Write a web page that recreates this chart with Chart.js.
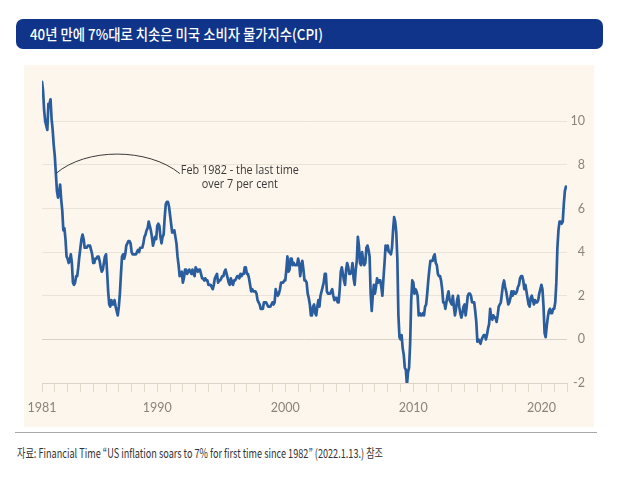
<!DOCTYPE html>
<html>
<head>
<meta charset="utf-8">
<script src="https://cdn.jsdelivr.net/npm/chart.js@4.4.1/dist/chart.umd.min.js"></script>
<style>
  html, body { margin:0; padding:0; background:#ffffff; width:633px; height:499px; overflow:hidden; position:relative; }
  #title { position:absolute; left:16px; top:19px; width:587px; height:30px; background:#0f3489; border-radius:7px; }
  #title span { position:absolute; left:14px; top:0; display:inline-block; line-height:30px; white-space:nowrap;
    color:#ffffff; font-family:"Noto Sans CJK KR", sans-serif; font-size:15px; font-weight:500; transform-origin:0 50%; }
  #panel { position:absolute; left:24px; top:65px; width:570px; height:362px; background:#fdf6ec; }
  #chart { position:absolute; left:24px; top:65px; }
  #rule { position:absolute; left:15px; top:432px; width:582px; height:1px; background:#a8a8a8; }
  #src { position:absolute; left:17px; top:444px; line-height:18px; white-space:nowrap; color:#333333;
    font-family:"Noto Sans CJK KR", sans-serif; font-size:12.5px; transform-origin:0 50%; }
</style>
</head>
<body>
<div id="title"><span id="titleText">40년 만에 7%대로 치솟은 미국 소비자 물가지수(CPI)</span></div>
<div id="panel"></div>
<canvas id="chart" width="570" height="362"></canvas>
<div id="rule"></div>
<div id="src">자료: Financial Time “US inflation soars to 7% for first time since 1982” (2022.1.13.) 참조</div>
<script>
// ---- data ----
const startYear = 1981;               // first month = Jan 1981, monthly to Dec 2021
const cpiYoY = [
  // 1981
  11.8, 11.4, 10.5, 10.0, 9.8, 9.6, 10.8, 10.8, 11.0, 10.1, 9.6, 8.9,
  // 1982
  8.4, 7.6, 6.8, 6.5, 6.7, 7.1, 6.4, 5.9, 5.0, 5.1, 4.6, 3.8,
  // 1983
  3.7, 3.5, 3.6, 3.9, 3.5, 2.6, 2.5, 2.6, 2.9, 2.9, 3.3, 3.8,
  // 1984
  4.2, 4.6, 4.8, 4.6, 4.2, 4.2, 4.2, 4.3, 4.3, 4.3, 4.1, 3.9,
  // 1985
  3.5, 3.5, 3.7, 3.7, 3.8, 3.8, 3.6, 3.3, 3.1, 3.2, 3.5, 3.8,
  // 1986
  3.9, 3.1, 2.2, 1.6, 1.5, 1.8, 1.6, 1.6, 1.8, 1.5, 1.3, 1.1,
  // 1987
  1.5, 2.1, 3.0, 3.8, 3.9, 3.7, 3.9, 4.3, 4.4, 4.5, 4.5, 4.4,
  // 1988
  4.0, 3.9, 3.9, 3.9, 3.9, 4.0, 4.1, 4.0, 4.2, 4.2, 4.2, 4.4,
  // 1989
  4.7, 4.8, 5.0, 5.1, 5.4, 5.2, 5.0, 4.7, 4.3, 4.5, 4.7, 4.6,
  // 1990
  5.2, 5.3, 5.2, 4.7, 4.4, 4.7, 4.8, 5.6, 6.2, 6.3, 6.3, 6.1,
  // 1991
  5.7, 5.3, 4.9, 4.9, 5.0, 4.7, 4.4, 3.8, 3.4, 2.9, 3.0, 3.1,
  // 1992
  2.6, 2.8, 3.2, 3.2, 3.0, 3.1, 3.2, 3.1, 3.0, 3.2, 3.0, 2.9,
  // 1993
  3.3, 3.2, 3.1, 3.2, 3.2, 3.0, 2.8, 2.8, 2.7, 2.8, 2.7, 2.7,
  // 1994
  2.5, 2.5, 2.5, 2.4, 2.3, 2.5, 2.8, 2.9, 3.0, 2.6, 2.7, 2.7,
  // 1995
  2.8, 2.9, 2.9, 3.1, 3.2, 3.0, 2.8, 2.6, 2.5, 2.8, 2.6, 2.5,
  // 1996
  2.7, 2.7, 2.8, 2.9, 2.9, 2.8, 3.0, 2.9, 3.0, 3.0, 3.3, 3.3,
  // 1997
  3.0, 3.0, 2.8, 2.5, 2.2, 2.3, 2.2, 2.2, 2.2, 2.1, 1.8, 1.7,
  // 1998
  1.6, 1.4, 1.4, 1.4, 1.7, 1.7, 1.7, 1.6, 1.5, 1.5, 1.5, 1.6,
  // 1999
  1.7, 1.6, 1.7, 2.3, 2.1, 2.0, 2.1, 2.3, 2.6, 2.6, 2.6, 2.7,
  // 2000
  2.7, 3.2, 3.8, 3.1, 3.2, 3.7, 3.7, 3.4, 3.5, 3.4, 3.4, 3.4,
  // 2001
  3.7, 3.5, 2.9, 3.3, 3.6, 3.2, 2.7, 2.7, 2.6, 2.1, 1.9, 1.6,
  // 2002
  1.1, 1.1, 1.5, 1.6, 1.2, 1.1, 1.5, 1.8, 1.5, 2.0, 2.2, 2.4,
  // 2003
  2.6, 3.0, 3.0, 2.2, 2.1, 2.1, 2.1, 2.2, 2.3, 2.0, 1.8, 1.9,
  // 2004
  1.9, 1.7, 1.7, 2.3, 3.1, 3.3, 3.0, 2.7, 2.5, 3.2, 3.5, 3.3,
  // 2005
  3.0, 3.0, 3.1, 3.5, 2.8, 2.5, 3.2, 3.6, 4.7, 4.3, 3.5, 3.4,
  // 2006
  4.0, 3.6, 3.4, 3.5, 4.2, 4.3, 4.1, 3.8, 2.1, 1.3, 2.0, 2.5,
  // 2007
  2.1, 2.4, 2.8, 2.6, 2.7, 2.7, 2.4, 2.0, 2.8, 3.5, 4.3, 4.1,
  // 2008
  4.3, 4.0, 4.0, 3.9, 4.2, 5.0, 5.6, 5.4, 4.9, 3.7, 1.1, 0.1,
  // 2009
  0.0, 0.2, -0.4, -0.7, -1.3, -1.4, -2.1, -1.5, -1.3, -0.2, 1.8, 2.7,
  // 2010
  2.6, 2.1, 2.3, 2.2, 2.0, 1.1, 1.2, 1.1, 1.1, 1.2, 1.1, 1.5,
  // 2011
  1.6, 2.1, 2.7, 3.2, 3.6, 3.6, 3.6, 3.8, 3.9, 3.5, 3.4, 3.0,
  // 2012
  2.9, 2.9, 2.7, 2.3, 1.7, 1.7, 1.4, 1.7, 2.0, 2.2, 1.8, 1.7,
  // 2013
  1.6, 2.0, 1.5, 1.1, 1.4, 1.8, 2.0, 1.5, 1.2, 1.0, 1.2, 1.5,
  // 2014
  1.6, 1.1, 1.5, 2.0, 2.1, 2.1, 2.0, 1.7, 1.7, 1.7, 1.3, 0.8,
  // 2015
  -0.1, 0.0, -0.1, -0.2, 0.0, 0.1, 0.2, 0.2, 0.0, 0.2, 0.5, 0.7,
  // 2016
  1.4, 1.0, 0.9, 1.1, 1.0, 1.0, 0.8, 1.1, 1.5, 1.6, 1.7, 2.1,
  // 2017
  2.5, 2.7, 2.4, 2.2, 1.9, 1.6, 1.7, 1.9, 2.2, 2.0, 2.2, 2.1,
  // 2018
  2.1, 2.2, 2.4, 2.5, 2.8, 2.9, 2.9, 2.7, 2.3, 2.5, 2.2, 1.9,
  // 2019
  1.6, 1.5, 1.9, 2.0, 1.8, 1.6, 1.8, 1.7, 1.7, 1.8, 2.1, 2.3,
  // 2020
  2.5, 2.3, 1.5, 0.3, 0.1, 0.6, 1.0, 1.3, 1.4, 1.2, 1.2, 1.4,
  // 2021
  1.4, 1.7, 2.6, 4.2, 5.0, 5.4, 5.4, 5.3, 5.4, 6.2, 6.8, 7.0
];
const xTickLabels = [1981, 1990, 2000, 2010, 2020];
const xRange = [1981, 2022];
const yTicks = [-2, 0, 2, 4, 6, 8, 10];
const yRange = [-2, 12];
const annotationIndex = 13;            // Feb 1982
const annotationLines = ['Feb 1982 - the last time', 'over 7 per cent'];

// ---- fit the condensed HTML texts ----
function fitWidth(el, target) {
  const w = el.getBoundingClientRect().width;
  if (w > 0) el.style.transform = 'scaleX(' + (target / w) + ')';
}
fitWidth(document.getElementById('titleText'), 293);
fitWidth(document.getElementById('src'), 366);

const points = cpiYoY.map((v, i) => ({ x: startYear + i / 12, y: v }));

const bgPlugin = {
  id: 'bg',
  beforeDraw(chart) {
    const ctx = chart.ctx;
    ctx.save();
    ctx.fillStyle = '#fdf6ec';
    ctx.fillRect(0, 0, chart.width, chart.height);
    ctx.restore();
  }
};

const annotationPlugin = {
  id: 'note',
  afterDatasetsDraw(chart) {
    const ctx = chart.ctx;
    const xs = chart.scales.x, ys = chart.scales.y;
    const p = points[annotationIndex];
    const sx = xs.getPixelForValue(p.x), sy = ys.getPixelForValue(p.y);
    const ex = sx + 124, ey = sy + 0;
    ctx.save();
    ctx.strokeStyle = '#3a3a3a';
    ctx.lineWidth = 1;
    ctx.beginPath();
    ctx.moveTo(sx, sy);
    ctx.bezierCurveTo(sx + 30, sy - 26, ex - 32, ey - 26, ex, ey);
    ctx.stroke();
    ctx.fillStyle = '#3a3a3a';
    ctx.font = '13px "Liberation Sans Narrow", "Open Sans", sans-serif';
    ctx.textBaseline = 'middle';
    const w0 = ctx.measureText(annotationLines[0]).width;
    const k = 118 / w0;
    const cx = ex + 1 + 59;
    ctx.translate(cx, 0);
    ctx.scale(k, 1);
    ctx.textAlign = 'center';
    ctx.fillText(annotationLines[0], 0, ey - 3);
    ctx.fillText(annotationLines[1], 0, ey + 11);
    ctx.restore();
  }
};

new Chart(document.getElementById('chart'), {
  type: 'line',
  data: {
    datasets: [{
      data: points,
      borderColor: '#2a5d9d',
      borderWidth: 2.7,
      pointRadius: 0,
      tension: 0,
      borderJoinStyle: 'round',
      borderCapStyle: 'round',
      fill: false
    }]
  },
  options: {
    responsive: false,
    animation: false,
    events: [],
    layout: { padding: { left: 18, top: 12.6, right: 9, bottom: 0 } },
    plugins: { legend: { display: false }, tooltip: { enabled: false }, title: { display: false } },
    scales: {
      x: {
        type: 'linear',
        min: xRange[0],
        max: xRange[1],
        afterBuildTicks(scale) {
          const t = [];
          for (let yr = xRange[0]; yr <= xRange[1]; yr++) t.push({ value: yr });
          scale.ticks = t;
        },
        afterFit(scale) { scale.height = 44; scale.paddingLeft = 0; scale.paddingRight = 0; },
        grid: { drawOnChartArea: false, drawTicks: true, tickLength: 9, color: '#e3d9cb', tickColor: '#e3d9cb' },
        border: { display: true, color: '#ddd4c7', width: 1 },
        ticks: {
          autoSkip: false,
          maxRotation: 0,
          padding: 8,
          color: '#8a847e',
          font: { family: 'Lato, "Open Sans", sans-serif', size: 12.5 },
          callback: (v) => xTickLabels.includes(Math.round(v)) ? String(Math.round(v)) : ''
        }
      },
      y: {
        position: 'right',
        min: yRange[0],
        max: yRange[1],
        afterBuildTicks(scale) { scale.ticks = yTicks.map(v => ({ value: v })); },
        afterFit(scale) { scale.width = 18; scale.paddingTop = 0; scale.paddingBottom = 0; },
        grid: {
          drawTicks: false,
          color: (c) => c.tick && c.tick.value === 0 ? '#d8d1c7' : '#ebe3d7',
          lineWidth: 1
        },
        border: { display: false },
        ticks: {
          padding: 6,
          crossAlign: 'far',
          color: '#8a847e',
          font: { family: 'Lato, "Open Sans", sans-serif', size: 12.5 },
          callback: (v) => String(v)
        }
      }
    }
  },
  plugins: [bgPlugin, annotationPlugin]
});
</script>
</body>
</html>
